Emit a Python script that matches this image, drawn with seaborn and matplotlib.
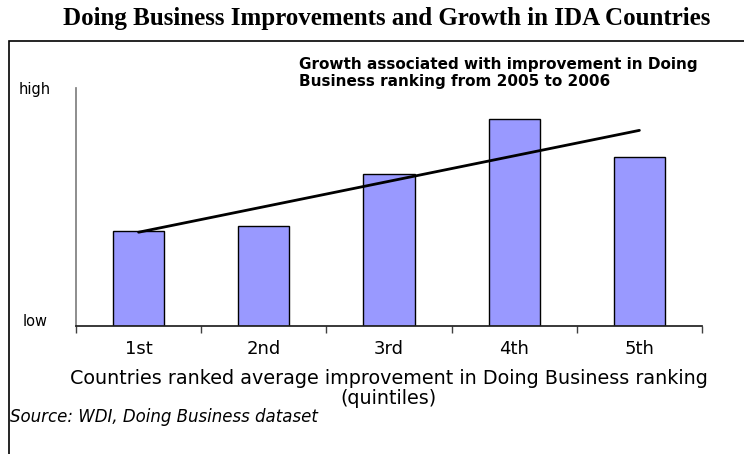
import numpy as np
import pandas as pd
import matplotlib
matplotlib.use("Agg")
import matplotlib.pyplot as plt
import seaborn as sns
from matplotlib.patches import Rectangle

# quintiles of countries by average improvement in Doing Business ranking
quintiles = ["1st", "2nd", "3rd", "4th", "5th"]
# relative growth (0 = low, 1 = high)
growth = [0.40, 0.42, 0.64, 0.87, 0.71]
y_labels = ["low", "high"]

df = pd.DataFrame({"quintile": quintiles, "growth": growth})

sns.set_theme(style = "white", rc = {"text.color": "black",
	"axes.labelcolor": "black", "xtick.color": "black", "ytick.color": "black"})
plt.rcParams["font.family"] = ["DejaVu Sans"]

W, H = 744, 454
fig = plt.figure(figsize = (W / 100, H / 100), dpi = 100)
ax = fig.add_axes([76 / W, 1 - 326 / H, 626 / W, 238 / H])

sns.barplot(data = df, x = "quintile", y = "growth", color = "#9999FF",
	saturation = 1, width = 0.41, edgecolor = "black", linewidth = 1, ax = ax)

# linear trend across the quintiles
sns.regplot(x = np.arange(len(quintiles)), y = df["growth"], scatter = False,
	ci = None, truncate = True, color = "black", line_kws = {"linewidth": 2},
	ax = ax)

ax.set_xlim(-0.5, len(quintiles) - 0.5)
ax.set_ylim(0, 1)
ax.set_yticks([0, 1])
ax.set_yticklabels(y_labels, fontsize = 10.5)
ax.tick_params(axis = "y", length = 0, pad = 29.5)
for lbl in ax.get_yticklabels():
	lbl.set_horizontalalignment("center")
ax.get_yticklabels()[0].set_verticalalignment("baseline")

ax.set_xticks(np.arange(-0.5, len(quintiles) + 0.5), minor = True)
ax.set_xticks(np.arange(len(quintiles)))
ax.set_xticklabels(quintiles, fontsize = 13)
ax.tick_params(axis = "x", which = "major", length = 0, pad = 10)
ax.tick_params(axis = "x", which = "minor", length = 5, direction = "out",
	color = "#404040", bottom = True)

ax.set_xlabel("Countries ranked average improvement in Doing Business ranking\n(quintiles)",
	fontsize = 13.8, labelpad = 8, linespacing = 1.05)
ax.set_ylabel("")

sns.despine(ax = ax)
ax.spines["left"].set_color("#808080")
ax.spines["bottom"].set_color("#202020")

fig.text(299 / W, 1 - 57 / H, "Growth associated with improvement in Doing\nBusiness ranking from 2005 to 2006",
	fontsize = 11, fontweight = "bold", va = "top", ha = "left",
	linespacing = 1.15)

fig.text(10 / W, 1 - 417 / H, "Source: WDI, Doing Business dataset",
	fontsize = 12, style = "italic", va = "center", ha = "left")

fig.text(387 / W, 1 - 19 / H, "Doing Business Improvements and Growth in IDA Countries",
	fontsize = 18, fontweight = "bold", family = ["Liberation Serif", "DejaVu Serif"],
	ha = "center", va = "center")

# frame around the chart area
fig.add_artist(Rectangle((9 / W, -0.1), 1.2, 1.1 - 41 / H,
	transform = fig.transFigure, fill = False, edgecolor = "black",
	linewidth = 1.2, clip_on = False))

fig.savefig("out.png", dpi = 100)
